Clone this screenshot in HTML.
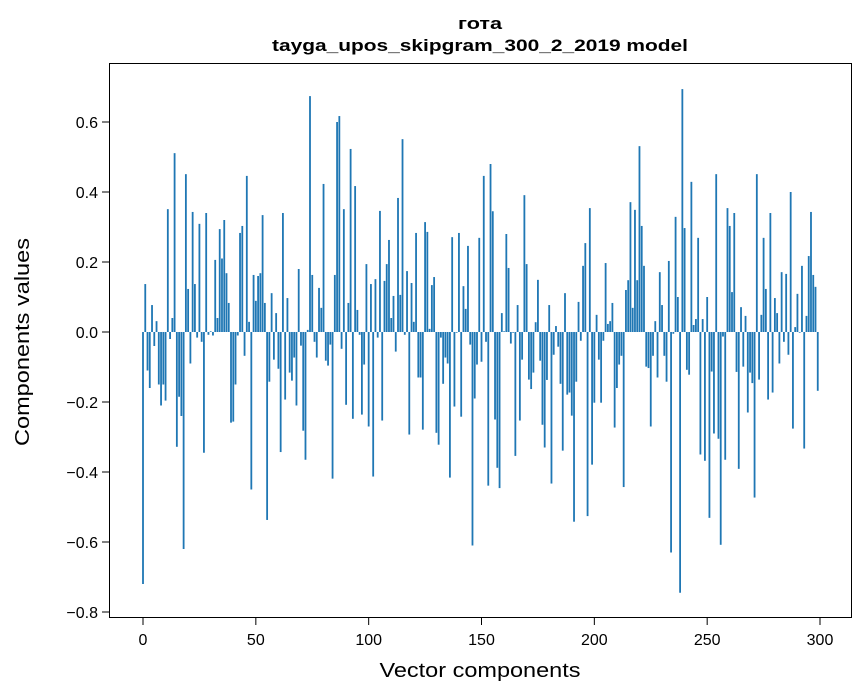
<!DOCTYPE html>
<html><head><meta charset="utf-8">
<style>
html,body{margin:0;padding:0;background:#fff;}
svg{display:block;font-family:"Liberation Sans","DejaVu Sans",sans-serif;}
</style></head>
<body>
<svg id="chart" width="867" height="696" viewBox="0 0 867 696" xmlns="http://www.w3.org/2000/svg">
<rect x="0" y="0" width="867" height="696" fill="#fff"/>
<text x="480" y="29" text-anchor="middle" font-size="17" font-weight="bold" textLength="44" lengthAdjust="spacingAndGlyphs">гота</text>
<text x="480" y="51" text-anchor="middle" font-size="17" font-weight="bold" textLength="416" lengthAdjust="spacingAndGlyphs">tayga_upos_skipgram_300_2_2019 model</text>
<g id="bars"></g>
<rect x="109.5" y="63.5" width="742" height="554" fill="none" stroke="#000" stroke-width="1"/>
<g id="xticks"></g>
<g id="yticks"></g>
<text x="480" y="677" text-anchor="middle" font-size="20" textLength="201" lengthAdjust="spacingAndGlyphs">Vector components</text>
<text x="0" y="0" transform="translate(29,342) rotate(-90)" text-anchor="middle" font-size="20" textLength="208" lengthAdjust="spacingAndGlyphs">Components values</text>
</svg>
<script>
const values = [
-0.72,0.137,-0.11,-0.16,0.077,-0.04,0.031,-0.15,-0.21,-0.15,
-0.196,0.351,-0.02,0.04,0.511,-0.328,-0.185,-0.24,-0.62,0.451,
0.123,-0.09,0.343,0.137,-0.016,0.309,-0.028,-0.345,0.34,-0.008,
0.002,-0.01,0.206,0.04,0.294,0.21,0.32,0.168,0.083,-0.259,
-0.256,-0.15,-0.01,0.283,0.303,-0.068,0.446,0.029,-0.45,0.163,
0.089,0.16,0.168,0.334,0.083,-0.537,-0.142,0.111,-0.079,0.054,
-0.105,-0.343,0.34,-0.193,0.097,-0.116,-0.139,-0.073,-0.21,0.18,
-0.039,-0.282,-0.365,0.006,0.674,0.163,-0.028,-0.073,0.126,0.069,
0.423,-0.082,-0.096,-0.036,-0.419,0.163,0.6,0.617,-0.048,0.351,
-0.208,0.083,0.523,-0.248,0.417,0.063,-0.008,-0.236,-0.093,0.194,
-0.27,0.137,-0.413,0.151,-0.016,0.346,-0.253,0.146,0.194,0.263,
0.04,0.103,-0.056,0.383,0.106,0.551,-0.008,0.174,-0.293,0.14,
0.029,0.283,-0.13,-0.13,-0.279,0.314,0.286,0.009,0.134,0.157,
-0.288,-0.322,-0.016,-0.148,-0.073,-0.09,-0.416,0.271,-0.213,-0.002,
0.283,-0.242,0.131,0.066,0.246,-0.036,-0.61,-0.19,-0.093,0.269,
-0.085,0.446,-0.028,-0.439,0.48,0.345,-0.25,-0.388,-0.446,0.054,
0.002,0.28,0.183,-0.033,-0.002,-0.354,0.077,-0.253,-0.079,0.391,
0.194,-0.136,-0.163,-0.116,0.028,0.149,-0.082,-0.265,-0.33,-0.137,
0.077,-0.433,-0.065,0.017,-0.042,-0.148,-0.339,0.111,-0.179,-0.173,
-0.239,-0.542,-0.142,0.086,-0.025,0.189,0.254,-0.526,0.354,-0.379,
-0.202,0.049,-0.079,-0.202,-0.025,0.197,0.023,0.031,0.083,-0.273,
-0.16,-0.093,-0.068,-0.443,0.12,0.148,0.371,0.069,0.349,0.148,
0.531,0.303,0.189,-0.099,-0.103,-0.27,-0.068,0.031,-0.13,0.171,
0.077,-0.068,-0.142,0.203,-0.63,-0.005,0.329,0.1,-0.745,0.694,
0.297,-0.108,-0.122,0.429,0.02,0.037,0.269,-0.35,0.037,-0.368,
0.1,-0.531,-0.113,-0.29,0.451,-0.305,-0.608,-0.013,-0.365,0.354,
0.303,0.114,0.34,-0.114,-0.391,0.071,-0.099,0.046,-0.23,-0.116,
-0.146,-0.473,0.451,-0.136,0.049,0.269,0.123,-0.193,0.34,-0.173,
0.097,0.054,-0.09,0.171,-0.028,0.166,-0.065,0.4,-0.276,0.014,
0.109,-0.002,0.189,-0.333,0.046,0.217,0.343,0.163,0.129,-0.168
];
const xTickLabels = [0,50,100,150,200,250,300];
const yTickLabels = [-0.8,-0.6,-0.4,-0.2,0.0,0.2,0.4,0.6];

const NS = "http://www.w3.org/2000/svg";
function xScale(v){ return 143 + v * 2.2567; }
function yScale(v){ return 332 - v * 350; }

const barsG = document.getElementById('bars');
values.forEach(function(v, i){
  const r = document.createElementNS(NS, 'rect');
  const x0 = xScale(i - 0.4), x1 = xScale(i + 0.4);
  const y0 = yScale(Math.max(v, 0)), y1 = yScale(Math.min(v, 0));
  r.setAttribute('x', x0);
  r.setAttribute('width', x1 - x0);
  r.setAttribute('y', y0);
  r.setAttribute('height', Math.max(y1 - y0, 0.3));
  r.setAttribute('fill', '#1f77b4');
  
  
  barsG.appendChild(r);
});

const xg = document.getElementById('xticks');
xTickLabels.forEach(function(t){
  const x = xScale(t);
  const l = document.createElementNS(NS, 'line');
  l.setAttribute('x1', x); l.setAttribute('x2', x);
  l.setAttribute('y1', 618); l.setAttribute('y2', 625);
  l.setAttribute('stroke', '#000');
  
  
  xg.appendChild(l);
  const tx = document.createElementNS(NS, 'text');
  tx.setAttribute('x', x); tx.setAttribute('y', 645);
  tx.setAttribute('text-anchor', 'middle');
  tx.setAttribute('font-size', '16');
  tx.textContent = String(t);
  
  
  xg.appendChild(tx);
});

const yg = document.getElementById('yticks');
yTickLabels.forEach(function(t){
  const y = yScale(t);
  const l = document.createElementNS(NS, 'line');
  l.setAttribute('x1', 102); l.setAttribute('x2', 109);
  l.setAttribute('y1', y); l.setAttribute('y2', y);
  l.setAttribute('stroke', '#000');
  
  
  yg.appendChild(l);
  const tx = document.createElementNS(NS, 'text');
  tx.setAttribute('x', 98); tx.setAttribute('y', y + 6);
  tx.setAttribute('text-anchor', 'end');
  tx.setAttribute('font-size', '16');
  tx.textContent = (t < 0 ? '\u2212' : '') + Math.abs(t).toFixed(1);
  
  
  yg.appendChild(tx);
});
</script>
</body></html>
